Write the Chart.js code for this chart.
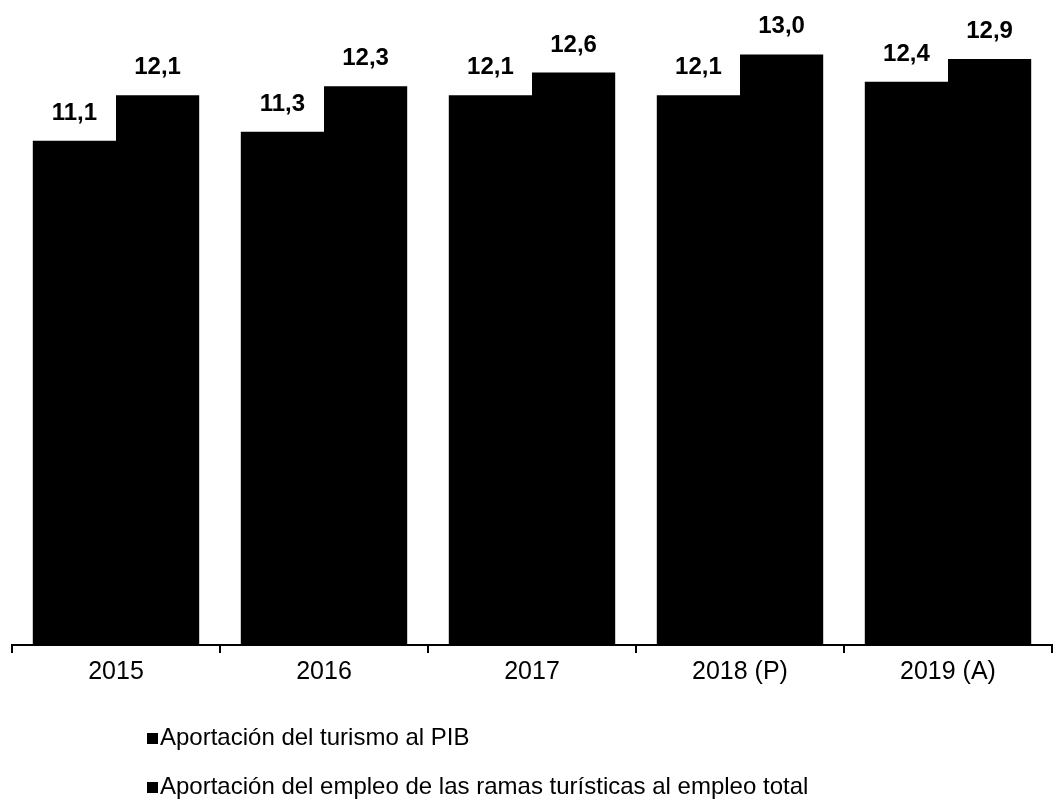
<!DOCTYPE html>
<html>
<head>
<meta charset="utf-8">
<script src="https://cdn.jsdelivr.net/npm/chart.js@4"></script>
<style>
  body { margin: 0; background: #fff; }
  #wrap { width: 1053px; height: 803px; }
</style>
</head>
<body>
<div id="wrap"><canvas id="chart" width="1053" height="803"></canvas></div>
<script>
const years = ["2015", "2016", "2017", "2018 (P)", "2019 (A)"];
const pibShare = [11.1, 11.3, 12.1, 12.1, 12.4];
const employmentShare = [12.1, 12.3, 12.6, 13.0, 12.9];
const seriesNames = [
  "Aportación del turismo al PIB",
  "Aportación del empleo de las ramas turísticas al empleo total",
];

const fmt = (v) => v.toFixed(1).replace(".", ",");
const FONT = "'Liberation Sans', Arial, sans-serif";

// value labels over each bar
const valueLabels = {
  id: "valueLabels",
  afterDatasetsDraw(chart) {
    const ctx = chart.ctx;
    ctx.save();
    ctx.font = "bold 24px " + FONT;
    ctx.fillStyle = "#000";
    ctx.textAlign = "center";
    ctx.textBaseline = "alphabetic";
    chart.data.datasets.forEach((ds, i) => {
      chart.getDatasetMeta(i).data.forEach((bar, j) => {
        ctx.fillText(fmt(ds.data[j]), bar.x, bar.y - 21);
      });
    });
    ctx.restore();
  },
};

// stacked legend under the axis
const stackedLegend = {
  id: "stackedLegend",
  afterDraw(chart) {
    const ctx = chart.ctx;
    ctx.save();
    ctx.font = "24px " + FONT;
    ctx.textBaseline = "middle";
    chart.data.datasets.forEach((ds, i) => {
      const y = 738 + i * 49;
      ctx.fillStyle = ds.backgroundColor;
      ctx.fillRect(147, y - 5, 11, 11);
      ctx.fillStyle = "#000";
      ctx.fillText(ds.label, 160, y);
    });
    ctx.restore();
  },
};

new Chart(document.getElementById("chart"), {
  type: "bar",
  data: {
    labels: years,
    datasets: [
      { label: seriesNames[0], data: pibShare, backgroundColor: "#000" },
      { label: seriesNames[1], data: employmentShare, backgroundColor: "#000" },
    ],
  },
  options: {
    responsive: false,
    animation: false,
    layout: { padding: { left: 12, right: 1, top: 9, bottom: 112 } },
    plugins: { legend: { display: false }, tooltip: { enabled: false } },
    datasets: { bar: { categoryPercentage: 0.8, barPercentage: 1.0 } },
    scales: {
      y: { display: false, min: 0, max: 14 },
      x: {
        border: { display: true, color: "#000", width: 2 },
        grid: {
          offset: true,
          drawOnChartArea: false,
          drawTicks: true,
          tickLength: 8,
          color: "#000",
          lineWidth: 2,
        },
        ticks: {
          color: "#000",
          padding: 4,
          font: { family: FONT, size: 25 },
        },
      },
    },
  },
  plugins: [valueLabels, stackedLegend],
});
</script>
</body>
</html>
